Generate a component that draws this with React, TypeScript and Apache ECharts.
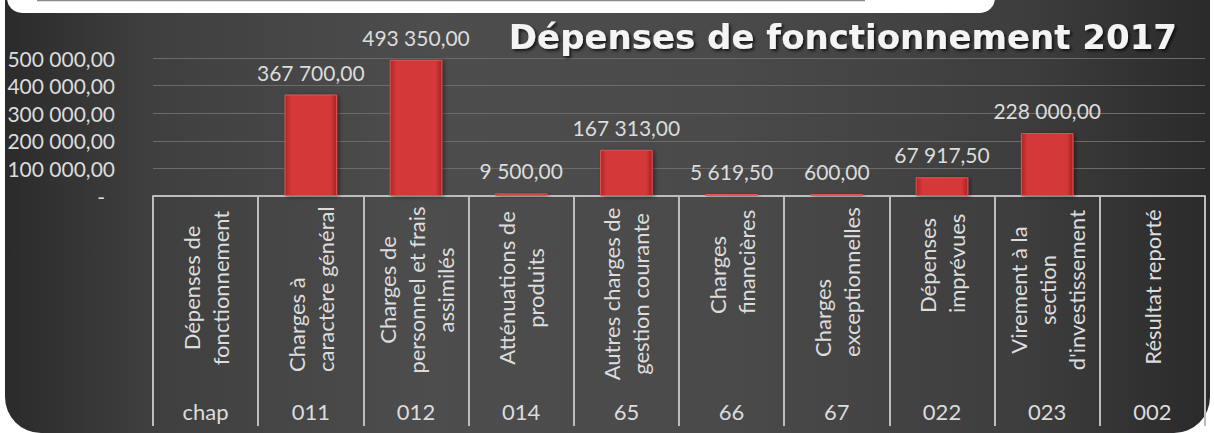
import React, { useEffect, useRef } from 'react';
import * as echarts from 'echarts';

const categories = [
  'Dépenses de\nfonctionnement',
  'Charges à\ncaractère général',
  'Charges de\npersonnel et frais\nassimilés',
  'Atténuations de\nproduits',
  'Autres charges de\ngestion courante',
  'Charges\nfinancières',
  'Charges\nexceptionnelles',
  'Dépenses\nimprévues',
  'Virement à la\nsection\nd\'investissement',
  'Résultat reporté',
];
const chapters = ['chap', '011', '012', '014', '65', '66', '67', '022', '023', '002'];
const values: (number | null)[] = [null, 367700, 493350, 9500, 167313, 5619.5, 600, 67917.5, 228000, null];
const yMin = 0;
const yMax = 500000;
const yStep = 100000;
const titleText = 'Dépenses de fonctionnement 2017';

// label placement inside each table cell (text-frame alignment and shift)
const labelPlacement: { align: string; padding: number[] }[] = [
  { align: 'center', padding: [0, 0, 0, 4] },
  { align: 'left', padding: [0, 0, 0, -82] },
  { align: 'center', padding: [0, 0, 0, 0] },
  { align: 'center', padding: [0, 0, 0, 4] },
  { align: 'center', padding: [0, 8, 0, 0] },
  { align: 'left', padding: [0, 0, 0, -24] },
  { align: 'left', padding: [0, 0, 0, -67] },
  { align: 'left', padding: [0, 0, 0, -23] },
  { align: 'center', padding: [0, 0, 0, 0] },
  { align: 'center', padding: [0, 0, 0, 6] },
];

function fmt(v: number): string {
  const [i, d] = v.toFixed(2).split('.');
  return i.replace(/\B(?=(\d{3})+(?!\d))/g, ' ') + ',' + d;
}

const FONT = 'Lato';
const LABEL_COLOR = '#dcdcdc';

export default function App() {
  const ref = useRef<HTMLDivElement>(null);
  useEffect(() => {
    const chart = echarts.init(ref.current!, undefined, { renderer: 'svg' });
    chart.setOption({
      animation: false,
      backgroundColor: '#ffffff',
      title: {
        text: titleText,
        right: 32,
        top: 15,
        textStyle: {
          color: '#f4f4f4',
          fontSize: 34,
          fontWeight: 'bold',
          fontFamily: 'DejaVu Sans',
          textShadowColor: 'rgba(0,0,0,0.7)',
          textShadowBlur: 3,
          textShadowOffsetX: 2,
          textShadowOffsetY: 2,
        },
      },
      graphic: [
        {
          type: 'rect',
          z: -10,
          shape: { x: 5, y: -20, width: 1205, height: 453, r: [14, 14, 36, 36] },
          style: {
            fill: new echarts.graphic.LinearGradient(0, 0, 1, 0, [
              { offset: 0, color: '#2b2b2b' },
              { offset: 0.12, color: '#3f3f3f' },
              { offset: 0.35, color: '#4d4d4d' },
              { offset: 0.6, color: '#4a4a4a' },
              { offset: 0.85, color: '#3d3d3d' },
              { offset: 1, color: '#2a2a2a' },
            ]),
          },
        },
        {
          type: 'rect',
          z: -9,
          shape: { x: 7, y: -20, width: 988, height: 33, r: [0, 0, 15, 15] },
          style: { fill: '#ffffff' },
        },
        {
          type: 'line',
          z: -8,
          shape: { x1: 37, y1: 0.5, x2: 865, y2: 0.5 },
          style: { stroke: '#8c8c8c', lineWidth: 1.5 },
        },
      ],
      grid: { left: 153, right: 9, top: 58, bottom: 237, containLabel: false },
      xAxis: [
        {
          type: 'category',
          data: categories.map((c, i) => ({
            value: c,
            textStyle: { align: labelPlacement[i].align, padding: labelPlacement[i].padding },
          })),
          position: 'bottom',
          axisLine: { show: true, lineStyle: { color: '#bdbdbd', width: 2 } },
          axisTick: { show: true, length: 230, lineStyle: { color: '#bdbdbd', width: 2 } },
          axisLabel: {
            interval: 0,
            rotate: 90,
            align: 'center',
            verticalAlign: 'middle',
            margin: 94,
            color: LABEL_COLOR,
            fontSize: 22,
            lineHeight: 29,
            fontFamily: FONT,
          },
          splitLine: { show: false },
        },
        {
          type: 'category',
          data: chapters,
          position: 'bottom',
          axisLine: { show: false },
          axisTick: { show: false },
          axisLabel: {
            interval: 0,
            margin: 204,
            color: LABEL_COLOR,
            fontSize: 22,
            fontFamily: FONT,
          },
          splitLine: { show: false },
        },
      ],
      yAxis: {
        type: 'value',
        min: yMin,
        max: yMax,
        interval: yStep,
        axisLine: { show: false },
        axisTick: { show: false },
        splitLine: { lineStyle: { color: '#6b6b6b', width: 1 } },
        axisLabel: {
          margin: 38,
          color: LABEL_COLOR,
          fontSize: 21,
          fontFamily: FONT,
          formatter: (v: number) => (v === 0 ? '{z|-}' : fmt(v)),
          rich: {
            z: { color: LABEL_COLOR, fontSize: 21, fontFamily: FONT, padding: [0, 10, 0, 0] },
          },
        },
      },
      series: [
        {
          type: 'bar',
          xAxisIndex: 0,
          data: values,
          barWidth: '50%',
          barMinHeight: 2,
          itemStyle: {
            color: new echarts.graphic.LinearGradient(0, 0, 1, 0, [
              { offset: 0, color: '#b02626' },
              { offset: 0.12, color: '#d43838' },
              { offset: 0.88, color: '#d43838' },
              { offset: 1, color: '#a52222' },
            ]),
            borderColor: '#e25555',
            borderWidth: 1,
            shadowColor: 'rgba(0,0,0,0.45)',
            shadowBlur: 4,
            shadowOffsetX: 2,
            shadowOffsetY: 1,
          },
          label: {
            show: true,
            position: 'top',
            distance: 12,
            color: LABEL_COLOR,
            fontSize: 21,
            fontFamily: FONT,
            formatter: (p: any) => fmt(p.value),
          },
        },
      ],
    });
    return () => chart.dispose();
  }, []);
  return (
    <div
      ref={ref}
      style={{ position: 'fixed', left: 0, top: 0, width: 1214, height: 433, background: '#fff' }}
    />
  );
}
